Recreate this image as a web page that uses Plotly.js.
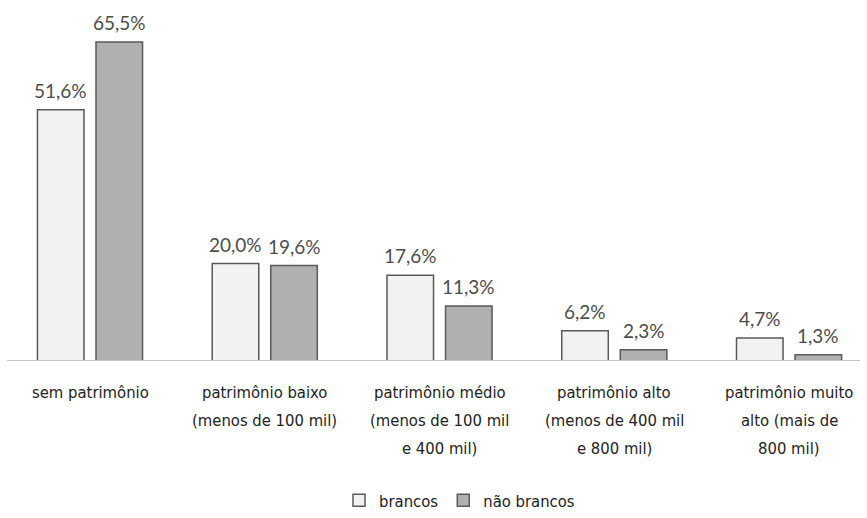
<!DOCTYPE html>
<html><head><meta charset="utf-8">
<script src="https://cdn.plot.ly/plotly-3.0.1.min.js"></script>
<style>body{margin:0;background:#fff}#chart{width:867px;height:518px}</style>
</head><body><div id="chart"></div>
<script>
const categories = [
  ["sem patrimônio"],
  ["patrimônio baixo", "(menos de 100 mil)"],
  ["patrimônio médio", "(menos de 100 mil", "e 400 mil)"],
  ["patrimônio alto", "(menos de 400 mil", "e 800 mil)"],
  ["patrimônio muito", "alto (mais de", "800 mil)"]
];
const seriesNames = ["brancos", "não brancos"];
const brancos = [51.6, 20.0, 17.6, 6.2, 4.7];
const naoBrancos = [65.5, 19.6, 11.3, 2.3, 1.3];

const xs = categories.map((c, i) => i);
const fmt = v => v.toFixed(1).replace('.', ',') + '%';
const catFont = "DejaVu Sans Condensed, Liberation Sans Narrow, Roboto, sans-serif";
const numFont = "Lato, Open Sans, sans-serif";

const barLine = {color: '#5a5a5a', width: 1.5};
const traces = [
  {type: 'bar', name: seriesNames[0], x: xs, y: brancos,
   marker: {color: '#f2f2f2', line: barLine}, hoverinfo: 'none'},
  {type: 'bar', name: seriesNames[1], x: xs, y: naoBrancos,
   marker: {color: '#b0b0b0', line: barLine}, hoverinfo: 'none'}
];

const bargap = 0.33;
const half = (1 - bargap) / 4;
const annotations = [];
[brancos, naoBrancos].forEach((arr, s) => {
  arr.forEach((v, i) => {
    annotations.push({x: i + (s === 0 ? -half : half), y: v, xref: 'x', yref: 'y',
      text: fmt(v), showarrow: false, yanchor: 'bottom', yshift: 6,
      font: {family: numFont, size: 19, color: '#4d4d4d'}});
  });
});
categories.forEach((lines, i) => {
  lines.forEach((t, j) => {
    annotations.push({x: i, y: 0, xref: 'x', yref: 'y', text: t, showarrow: false,
      yanchor: 'middle', yshift: -31 - 28 * j,
      font: {family: catFont, size: 16.5, color: '#222222'}});
  });
});

const layout = {
  width: 867, height: 518,
  margin: {l: 0, r: 0, t: 20, b: 157},
  paper_bgcolor: '#ffffff', plot_bgcolor: '#ffffff',
  barmode: 'group', bargap: bargap, bargroupgap: 0.205,
  xaxis: {range: [-0.515, 4.446], showticklabels: false, showgrid: false, zeroline: false, showline: false, ticks: ''},
  yaxis: {range: [0, 70], visible: false, showgrid: false, zeroline: false},
  shapes: [{type: 'line', xref: 'paper', yref: 'y', x0: 7/867, x1: 860/867, y0: 0, y1: 0,
    line: {color: '#c4c4c4', width: 2}}],
  annotations: annotations,
  showlegend: true,
  legend: {orientation: 'h', x: 0.53, xanchor: 'center', y: -0.41, yanchor: 'middle',
    font: {family: catFont, size: 16.5, color: '#222222'}, itemwidth: 30, traceorder: 'normal'}
};
Plotly.newPlot('chart', traces, layout, {staticPlot: true, displayModeBar: false});
</script></body></html>
